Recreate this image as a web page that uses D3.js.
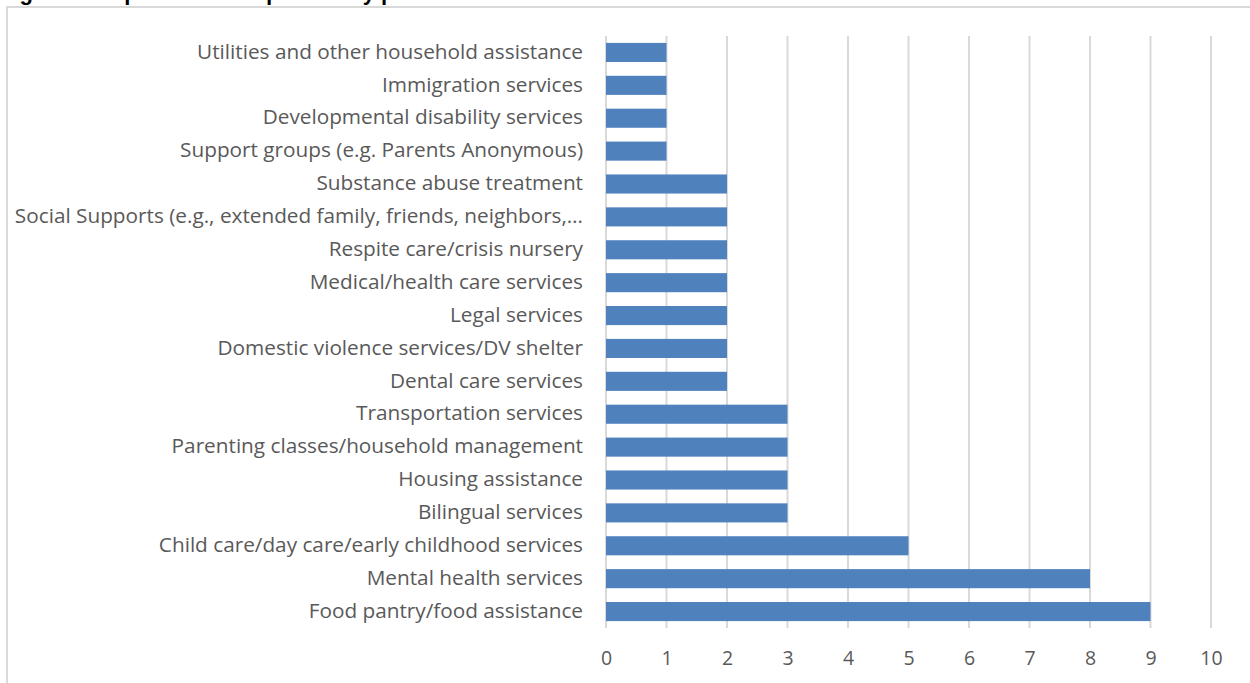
<!DOCTYPE html>
<html>
<head>
<meta charset="utf-8">
<script src="https://cdn.jsdelivr.net/npm/d3@7"></script>
<style>
  body { margin: 0; background: #fff; }
  svg { display: block; }
</style>
</head>
<body>
<svg id="drawing_region"></svg>
<script>
// categories, top to bottom as shown
const categories = [
    'Utilities and other household assistance',
    'Immigration services',
    'Developmental disability services',
    'Support groups (e.g. Parents Anonymous)',
    'Substance abuse treatment',
    'Social Supports (e.g., extended family, friends, neighbors,\u2026',
    'Respite care/crisis nursery',
    'Medical/health care services',
    'Legal services',
    'Domestic violence services/DV shelter',
    'Dental care services',
    'Transportation services',
    'Parenting classes/household management',
    'Housing assistance',
    'Bilingual services',
    'Child care/day care/early childhood services',
    'Mental health services',
    'Food pantry/food assistance'
];
const counts = [1, 1, 1, 1, 2, 2, 2, 2, 2, 2, 2, 3, 3, 3, 3, 5, 8, 9];
const x_ticks = [0, 1, 2, 3, 4, 5, 6, 7, 8, 9, 10];
const title_text = 'Figure 9: Top services requested by parents';

const data = categories.map((c, i) => ({label: c, value: counts[i]}));

const width = 1250, height = 683;
const margin = {top: 36, left: 606, right: 39, bottom: 55};
const inner_width = width - margin.left - margin.right;
const inner_height = height - margin.top - margin.bottom;

const svg = d3.select('#drawing_region')
    .attr('width', width)
    .attr('height', height);

// title sits above the frame, only its descenders show
svg.append('text')
    .attr('x', 0)
    .attr('y', 0)
    .attr('font-family', 'Liberation Sans, Arial, sans-serif')
    .attr('font-weight', 'bold')
    .attr('font-size', 22)
    .attr('fill', '#000')
    .text(title_text);

// chart frame
svg.append('rect')
    .attr('x', 7)
    .attr('y', 7)
    .attr('width', width + 10)
    .attr('height', height + 10)
    .attr('fill', 'none')
    .attr('stroke', '#d9d9d9')
    .attr('stroke-width', 2);

const chart = svg.append('g')
    .attr('transform', `translate(${margin.left}, ${margin.top})`);

const xscale = d3.scaleLinear()
    .domain([0, 10])
    .range([0, inner_width]);

const yscale = d3.scaleBand()
    .domain(categories)
    .range([0, inner_height])
    .paddingInner(0.42)
    .paddingOuter(0.21);

// gridlines
chart.selectAll('.grid')
    .data(x_ticks)
    .enter()
    .append('line')
    .attr('x1', d => xscale(d))
    .attr('x2', d => xscale(d))
    .attr('y1', 0)
    .attr('y2', inner_height)
    .attr('stroke', '#d9d9d9')
    .attr('stroke-width', 2);

chart.selectAll('rect.bar')
    .data(data)
    .enter()
    .append('rect')
    .attr('class', 'bar')
    .attr('x', xscale(0))
    .attr('y', d => yscale(d.label))
    .attr('width', d => xscale(d.value) - xscale(0))
    .attr('height', yscale.bandwidth())
    .attr('fill', '#4f81bd');

const font = 'Open Sans, sans-serif';
const fsize = 19.5;
const stretch = 1.065;   // reference font runs a bit wider

const xaxis = d3.axisBottom(xscale)
    .tickValues(x_ticks)
    .tickSize(0)
    .tickPadding(23);

const xaxis_group = chart.append('g')
    .attr('transform', `translate(0, ${inner_height})`)
    .call(xaxis);
xaxis_group.select('.domain').remove();
xaxis_group.selectAll('text')
    .attr('font-family', font)
    .attr('font-size', fsize)
    .attr('fill', '#595959');

const yaxis = d3.axisLeft(yscale)
    .tickSize(0)
    .tickPadding(23);

const yaxis_group = chart.append('g')
    .call(yaxis);
yaxis_group.select('.domain').remove();
yaxis_group.selectAll('text')
    .attr('font-family', font)
    .attr('font-size', fsize)
    .attr('fill', '#595959')
    .attr('x', -23 / stretch)
    .attr('transform', `scale(${stretch}, 1)`);
</script>
</body>
</html>
